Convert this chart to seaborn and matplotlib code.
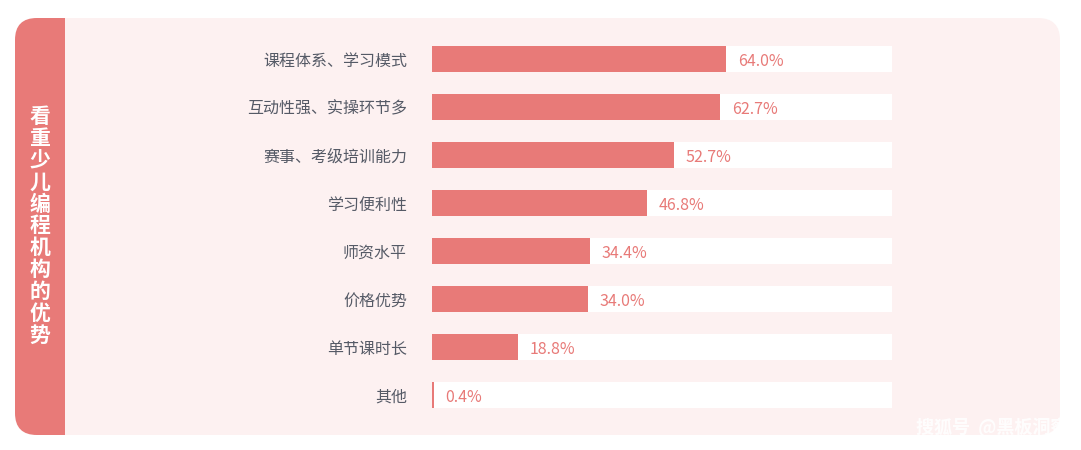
import matplotlib.pyplot as plt
import seaborn as sns
from matplotlib.patches import FancyBboxPatch, Rectangle

plt.rcParams['font.family'] = 'Noto Sans CJK SC'

categories = ['课程体系、学习模式', '互动性强、实操环节多', '赛事、考级培训能力', '学习便利性',
              '师资水平', '价格优势', '单节课时长', '其他']
values = [64.0, 62.7, 52.7, 46.8, 34.4, 34.0, 18.8, 0.4]
side_title = '看重少儿编程机构的优势'

W, H = 1081, 450
fig = plt.figure(figsize=(W / 100, H / 100), dpi=100)
bg = fig.add_axes([0, 0, 1, 1])
bg.set_xlim(0, W)
bg.set_ylim(H, 0)
bg.axis('off')
bg.add_patch(FancyBboxPatch((15, 18), 1045, 417, boxstyle='round,pad=0,rounding_size=22',
                            fc='#fdf1f1', ec='none'))
bg.add_patch(FancyBboxPatch((15, 18), 50, 417, boxstyle='round,pad=0,rounding_size=22',
                            fc='#e87a78', ec='none'))
bg.add_patch(Rectangle((40, 18), 25, 417, fc='#e87a78', ec='none'))
bg.text(40, 226, '\n'.join(side_title), color='white', fontsize=15, fontweight='bold',
        ha='center', va='center', linespacing=1.05)
bg.text(1068, 428, '搜狐号  @黑板洞察', color='white', fontsize=13, ha='right', va='center',
        alpha=0.9, fontweight='bold')

ax = fig.add_axes([432 / W, 1 - 419 / H, 460 / W, (419 - 35) / H])
ax.set_facecolor('none')
ax.barh(range(len(categories)), [100] * len(categories), height=0.55, color='white')
sns.barplot(x=values, y=categories, orient='h', color='#e87a78', width=0.55, ax=ax,
            saturation=1)
ax.set_xlim(0, 100)
ax.set_ylim(len(categories) - 0.5, -0.5)
for i, v in enumerate(values):
    ax.text(v + 2.5, i + 0.05, f'{v:.1f}%', color='#e87a78', fontsize=11.5, va='center', ha='left')
ax.set_xticks([])
ax.tick_params(axis='y', length=0, labelsize=11.5, labelcolor='#555a66', pad=18)
ax.set_ylabel('')
ax.set_xlabel('')
for s in ax.spines.values():
    s.set_visible(False)

fig.savefig('out.png', dpi=100)
